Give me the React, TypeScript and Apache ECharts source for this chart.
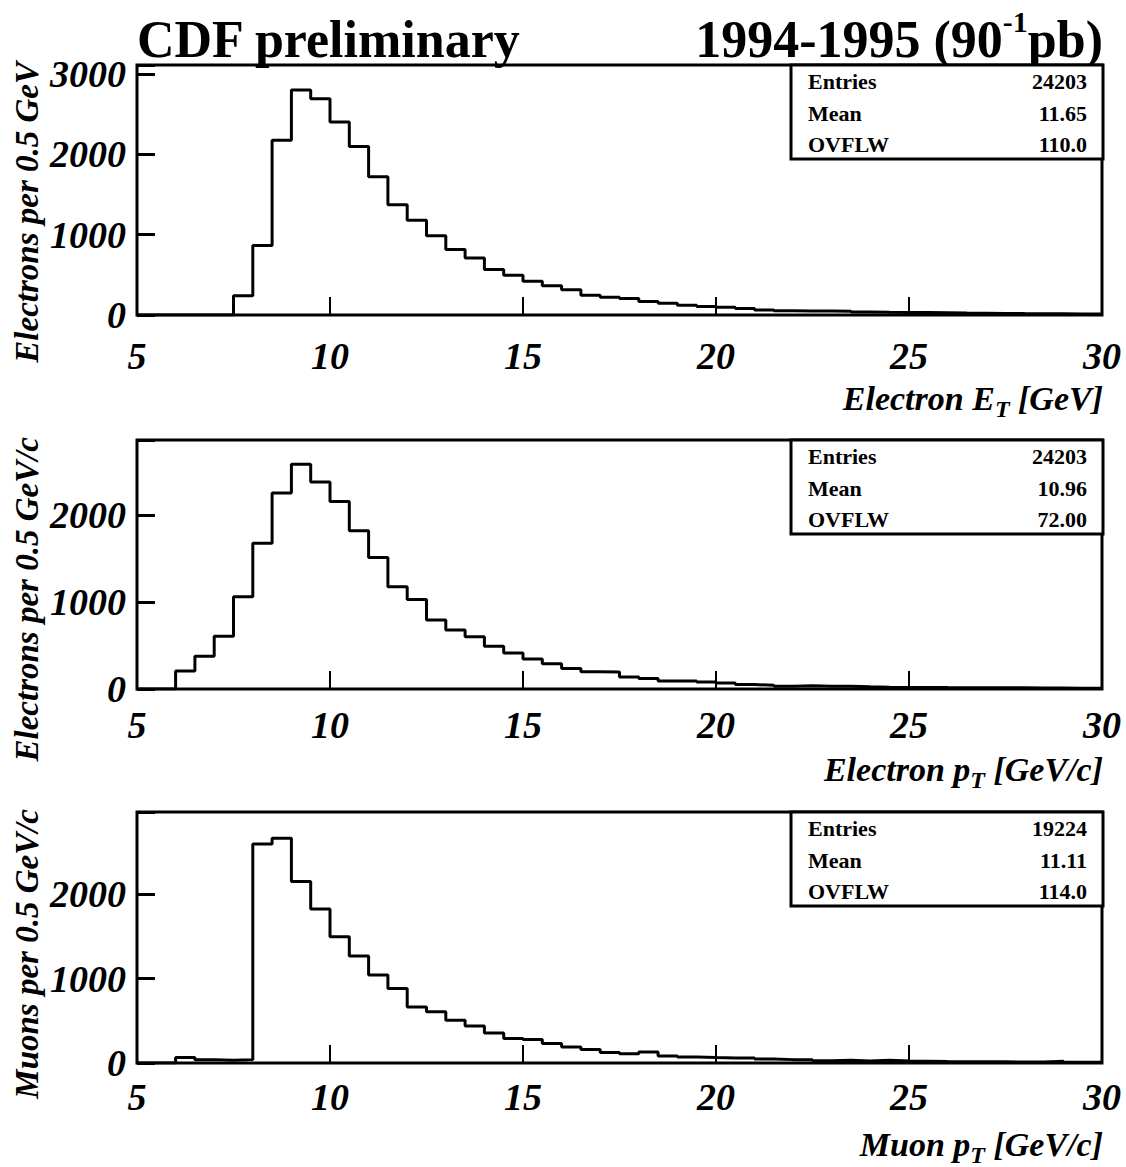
import React, { useEffect, useRef } from 'react';
import * as echarts from 'echarts';

// Histogram binning: 50 bins of 0.5 GeV from 5 to 30
const binStart = 5;
const binWidth = 0.5;
const xTickValues = [5, 10, 15, 20, 25, 30];

// Electron E_T [GeV] — entries per 0.5 GeV bin (5.0 ... 29.5)
const electronEt = [
  0, 0, 0, 0, 0, 240, 865, 2175, 2800, 2690,
  2400, 2095, 1720, 1370, 1180, 985, 815, 710, 565, 495,
  420, 365, 315, 245, 220, 205, 168, 145, 120, 105,
  95, 82, 62, 52, 50, 50, 48, 38, 33, 32,
  30, 28, 24, 22, 20, 18, 17, 15, 13, 12,
];

// Electron p_T [GeV/c]
const electronPt = [
  0, 0, 208, 378, 609, 1064, 1681, 2259, 2590, 2386,
  2162, 1823, 1515, 1179, 1033, 794, 679, 601, 494, 416,
  347, 290, 236, 200, 195, 139, 120, 93, 93, 81,
  69, 51, 43, 31, 38, 31, 31, 25, 20, 18,
  18, 16, 15, 15, 13, 13, 12, 12, 10, 10,
];

// Muon p_T [GeV/c]
const muonPt = [
  0, 0, 64, 40, 32, 40, 2597, 2665, 2150, 1825,
  1497, 1267, 1042, 883, 665, 606, 507, 440, 356, 290,
  278, 232, 190, 159, 123, 111, 131, 83, 71, 64,
  60, 58, 48, 40, 40, 28, 32, 24, 32, 24,
  22, 18, 16, 15, 14, 12, 12, 20, 10, 8,
];

const panelData = [electronEt, electronPt, muonPt];
const panelYMax = [3110, 2870, 2975];
const yTickStep = 1000;

const statLabels = ['Entries', 'Mean', 'OVFLW'];
const statValues = [
  ['24203', '11.65', '110.0'],
  ['24203', '10.96', '72.00'],
  ['19224', '11.11', '114.0'],
];

const yTitles = ['Electrons per 0.5 GeV', 'Electrons per 0.5 GeV/c', 'Muons per 0.5 GeV/c'];
const xTitleMain = ['Electron E', 'Electron p', 'Muon p'];
const xTitleSub = ['T', 'T', 'T'];
const xTitleUnit = [' [GeV]', ' [GeV/c]', ' [GeV/c]'];

const titleLeft = 'CDF preliminary';
const titleRightMain = '1994-1995 (90';
const titleRightSup = '-1';
const titleRightEnd = 'pb)';

// Layout (pixels)
const FONT = '"Liberation Serif", "Times New Roman", serif';
const gridLeft = 137;
const gridWidth = 965;
const grids = [
  { top: 65, height: 250, labelMargin: 22, xTitleY: 398 },
  { top: 440, height: 249, labelMargin: 17, xTitleY: 769 },
  { top: 812, height: 251, labelMargin: 15, xTitleY: 1144 },
];

function toSteps(vals: number[]) {
  const pts: number[][] = vals.map((v, i) => [binStart + i * binWidth, v]);
  pts.push([binStart + vals.length * binWidth, vals[vals.length - 1]]);
  return pts;
}

export default function App() {
  const ref = useRef<HTMLDivElement>(null);

  useEffect(() => {
    if (!ref.current) return;
    const chart = echarts.init(ref.current, null, { renderer: 'svg' });

    const labelStyle = {
      color: '#000',
      fontFamily: FONT,
      fontWeight: 'bold' as const,
      fontStyle: 'italic' as const,
      fontSize: 38,
    };

    const graphic: any[] = [];

    // Titles
    graphic.push({
      type: 'text',
      x: gridLeft,
      y: 39,
      z: 100,
      style: {
        text: titleLeft,
        font: `bold 52px ${FONT}`,
        fill: '#000',
        align: 'left',
        verticalAlign: 'middle',
        textAlign: 'left',
        textVerticalAlign: 'middle',
      },
    });
    graphic.push({
      type: 'text',
      x: 1103,
      y: 39,
      z: 100,
      style: {
        text: `{a|${titleRightMain}}{s|${titleRightSup}}{a|${titleRightEnd}}`,
        fill: '#000',
        align: 'right',
        verticalAlign: 'middle',
        textAlign: 'right',
        textVerticalAlign: 'middle',
        rich: {
          a: { fontFamily: FONT, fontWeight: 'bold', fontSize: 52, lineHeight: 66, fill: '#000' },
          s: { fontFamily: FONT, fontWeight: 'bold', fontSize: 30, lineHeight: 30, verticalAlign: 'top', fill: '#000' },
        },
      },
    });

    grids.forEach((g, i) => {
      // Stat box
      graphic.push({
        type: 'rect',
        z: 100,
        shape: { x: 791, y: g.top, width: 312, height: 94 },
        style: { fill: '#fff', stroke: '#000', lineWidth: 3 },
      });
      statLabels.forEach((lab, k) => {
        const cy = g.top + 16.5 + k * 31.6;
        graphic.push({
          type: 'text',
          z: 101,
          x: 808,
          y: cy,
          style: {
            text: lab,
            font: `bold 22px ${FONT}`,
            fill: '#000',
            align: 'left',
            verticalAlign: 'middle',
            textAlign: 'left',
            textVerticalAlign: 'middle',
          },
        });
        graphic.push({
          type: 'text',
          z: 101,
          x: 1087,
          y: cy,
          style: {
            text: statValues[i][k],
            font: `bold 22px ${FONT}`,
            fill: '#000',
            align: 'right',
            verticalAlign: 'middle',
            textAlign: 'right',
            textVerticalAlign: 'middle',
          },
        });
      });

      // Y title (rotated, ending at frame top)
      graphic.push({
        type: 'text',
        z: 100,
        x: 27,
        y: g.top - 3,
        rotation: Math.PI / 2,
        style: {
          text: yTitles[i],
          font: `italic bold 33px ${FONT}`,
          fill: '#000',
          align: 'right',
          verticalAlign: 'middle',
          textAlign: 'right',
          textVerticalAlign: 'middle',
        },
      });

      // X title with subscript
      graphic.push({
        type: 'text',
        z: 100,
        x: 1103,
        y: g.xTitleY,
        style: {
          text: `{a|${xTitleMain[i]}}{s|${xTitleSub[i]}}{a|${xTitleUnit[i]}}`,
          fill: '#000',
          align: 'right',
          verticalAlign: 'middle',
          textAlign: 'right',
          textVerticalAlign: 'middle',
          rich: {
            a: { fontFamily: FONT, fontWeight: 'bold', fontStyle: 'italic', fontSize: 34, lineHeight: 46, fill: '#000' },
            s: { fontFamily: FONT, fontWeight: 'bold', fontStyle: 'italic', fontSize: 24, lineHeight: 24, verticalAlign: 'bottom', fill: '#000' },
          },
        },
      });
    });

    const option: any = {
      animation: false,
      backgroundColor: '#fff',
      grid: grids.map((g) => ({
        left: gridLeft,
        top: g.top,
        width: gridWidth,
        height: g.height,
        show: true,
        borderColor: '#000',
        borderWidth: 3,
        backgroundColor: 'transparent',
        containLabel: false,
      })),
      xAxis: grids.map((g, i) => ({
        type: 'value',
        gridIndex: i,
        min: xTickValues[0],
        max: xTickValues[xTickValues.length - 1],
        interval: 5,
        axisLine: { show: false },
        axisTick: { show: true, inside: true, length: 18, lineStyle: { color: '#000', width: 2 } },
        axisLabel: { ...labelStyle, margin: g.labelMargin, showMinLabel: true, showMaxLabel: true },
        splitLine: { show: false },
      })),
      yAxis: grids.map((g, i) => ({
        type: 'value',
        gridIndex: i,
        min: 0,
        max: panelYMax[i],
        interval: yTickStep,
        axisLine: { show: false },
        axisTick: { show: true, inside: true, length: 18, lineStyle: { color: '#000', width: 3 } },
        axisLabel: {
          ...labelStyle,
          margin: 11,
          formatter: (v: number) => (v % yTickStep === 0 ? String(v) : ''),
        },
        splitLine: { show: false },
      })),
      series: panelData.map((vals, i) => ({
        type: 'line',
        xAxisIndex: i,
        yAxisIndex: i,
        step: 'end',
        showSymbol: false,
        symbol: 'none',
        lineStyle: { color: '#000', width: 3 },
        data: toSteps(vals),
        z: 5,
      })),
      graphic,
    };

    chart.setOption(option);
    return () => chart.dispose();
  }, []);

  return (
    <div
      ref={ref}
      style={{ position: 'absolute', left: 0, top: 0, width: 1126, height: 1167, background: '#fff' }}
    />
  );
}
